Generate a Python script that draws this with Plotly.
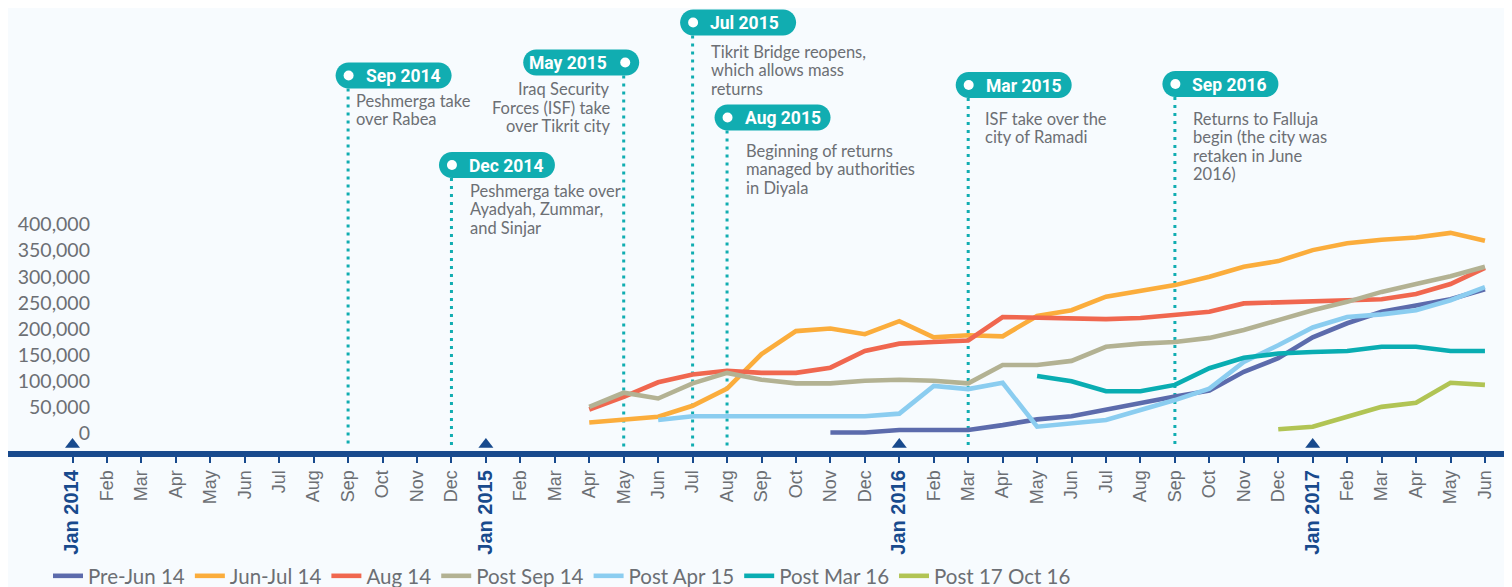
import plotly.graph_objects as go

# ---------------- data ----------------
month_abbr = ["Jan", "Feb", "Mar", "Apr", "May", "Jun", "Jul", "Aug", "Sep", "Oct", "Nov", "Dec"]
years = [2014, 2015, 2016, 2017]
n_months = 42  # Jan 2014 .. Jun 2017

series_names = ["Pre-Jun 14", "Jun-Jul 14", "Aug 14", "Post Sep 14", "Post Apr 15", "Post Mar 16", "Post 17 Oct 16"]
series_start = ["Nov 2015", "Apr 2015", "Apr 2015", "Apr 2015", "Jun 2015", "May 2016", "Dec 2016"]

pre_jun14 = [2000, 2000, 6700, 6700, 6700, 16000, 27000, 33000, 46000, 59000, 71000, 82000,
             118000, 144000, 184000, 211000, 233000, 245000, 257000, 276000]
jun_jul14 = [21000, 27000, 32000, 53000, 86000, 152000, 196000, 201000, 190000, 215000, 184000, 188000,
             186000, 225000, 236000, 262000, 274000, 284000, 300000, 319000, 330000, 351000, 364000,
             371000, 375000, 384000, 369000]
aug14 = [46000, 70000, 98000, 113000, 120000, 116000, 116000, 126000, 158000, 172000, 175000, 178000,
         223000, 222000, 222000, 219000, 221000, 227000, 233000, 249000, 251000, 251000, 253000,
         257000, 267000, 286000, 317000]
post_sep14 = [51000, 78000, 67000, 96000, 116000, 103000, 96000, 96000, 101000, 103000, 101000, 96000,
              131000, 131000, 139000, 166000, 172000, 175000, 183000, 198000, 217000, 236000, 252000,
              271000, 286000, 301000, 319000]
post_apr15 = [26000, 33000, 33000, 33000, 33000, 33000, 33000, 38000, 91000, 85000, 97000, 13000,
              19000, 26000, 45000, 64000, 86000, 137000, 169000, 203000, 223000, 228000, 236000,
              255000, 280000]
post_mar16 = [110000, 100000, 81000, 81000, 93000, 125000, 145000, 153000, 156000, 158000, 166000,
              166000, 158000, 158000]
post_17oct16 = [8000, 13000, 32000, 51000, 59000, 97000, 93000]

series_values = [pre_jun14, jun_jul14, aug14, post_sep14, post_apr15, post_mar16, post_17oct16]

y_tick_values = [0, 50000, 100000, 150000, 200000, 250000, 300000, 350000, 400000]

event_dates = ["Sep 2014", "Dec 2014", "May 2015", "Jul 2015", "Aug 2015", "Mar 2016", "Sep 2016"]
event_titles = ["Sep 2014", "Dec 2014", "May 2015", "Jul 2015", "Aug 2015", "Mar 2015", "Sep 2016"]
event_texts = [
    ["Peshmerga take", "over Rabea"],
    ["Peshmerga take over", "Ayadyah, Zummar,", "and Sinjar"],
    ["Iraq Security", "Forces (ISF) take", "over Tikrit city"],
    ["Tikrit Bridge reopens,", "which allows mass", "returns"],
    ["Beginning of returns", "managed by authorities", "in Diyala"],
    ["ISF take over the", "city of Ramadi"],
    ["Returns to Falluja", "begin (the city was", "retaken in June", "2016)"],
]

# ---------------- layout geometry / style (page pixel coords) ----------------
W, H = 1512, 587
OFF = 8                            # page body margin
PLOT_L, PLOT_R = OFF, OFF + W      # page coords of plot area
PLOT_T, PLOT_B = OFF, 451
M0PX, PXPM = 72.5, 34.45           # page pixel of Jan 2014, pixels per month
Y0PX, UPP = 433.5, 1914.0          # page pixel of value 0, units per pixel

XMIN = (PLOT_L - M0PX) / PXPM
XMAX = (PLOT_R - M0PX) / PXPM
YMIN = (Y0PX - PLOT_B) * UPP
YMAX = (Y0PX - PLOT_T) * UPP


def px_x(px):
    return (px - M0PX) / PXPM


def px_y(py):
    return (Y0PX - py) * UPP


def month_index(label):
    m, y = label.split()
    return (int(y) - 2014) * 12 + month_abbr.index(m)


colors = ["#5c6bac", "#fbad3c", "#f0674f", "#b3b293", "#8bcdf0", "#09adb2", "#b1c454"]
AXIS_BLUE = "#184a8d"
TEAL = "#11adb1"
GRAY = "#6c6f74"
BG = "#f7fbfe"
TEXT_FONT = "Lato"

# event layout: dot side, pill top pixel, body text x offset from line, first body line y
ev_side = ["L", "L", "R", "L", "L", "L", "L"]
ev_pill_top = [62.5, 152, 49.5, 9.5, 104.5, 72, 71]
ev_text_dx = [6, 17, -12, 16.7, 17, 15, 16]
ev_text_y0 = [101, 190.7, 89.3, 51.7, 150.7, 119, 119]
LINE_STEP = 18.4
PILL_H = 26

fig = go.Figure()

for name, start, vals, col in zip(series_names, series_start, series_values, colors):
    s = month_index(start)
    fig.add_trace(go.Scatter(
        x=list(range(s, s + len(vals))), y=vals, name=name, mode="lines",
        line=dict(color=col, width=4.6), hoverinfo="x+y+name",
    ))

# year-start triangles
jan_idx = [month_index(f"Jan {y}") for y in years]
fig.add_trace(go.Scatter(
    x=jan_idx, y=[px_y(444.5)] * len(jan_idx), mode="markers", showlegend=False,
    marker=dict(symbol="triangle-up", size=13, color=AXIS_BLUE, line=dict(width=0)),
    hoverinfo="skip", cliponaxis=False,
))

shapes = []
annotations = []


def pill_path(l, r, t, b):
    rr = (b - t) / 2
    k = 0.5523 * rr
    X, Y = px_x, px_y
    return (f"M {X(l+rr)},{Y(t)} L {X(r-rr)},{Y(t)} "
            f"C {X(r-rr+k)},{Y(t)} {X(r)},{Y(t+rr-k)} {X(r)},{Y(t+rr)} "
            f"C {X(r)},{Y(t+rr+k)} {X(r-rr+k)},{Y(b)} {X(r-rr)},{Y(b)} "
            f"L {X(l+rr)},{Y(b)} "
            f"C {X(l+rr-k)},{Y(b)} {X(l)},{Y(t+rr+k)} {X(l)},{Y(t+rr)} "
            f"C {X(l)},{Y(t+rr-k)} {X(l+rr-k)},{Y(t)} {X(l+rr)},{Y(t)} Z")


for i, d in enumerate(event_dates):
    mi = month_index(d)
    lx = M0PX + mi * PXPM
    t = ev_pill_top[i]
    b = t + PILL_H
    cy = (t + b) / 2
    # dotted line
    shapes.append(dict(type="line", xref="x", yref="y", x0=mi, x1=mi, y0=px_y(b), y1=px_y(448),
                       line=dict(color=TEAL, width=3, dash="3px,5px"), layer="below"))
    if ev_side[i] == "L":
        cx = lx + 0.5
        l, r = cx - 13, cx + 103
        tx, txa = cx + 15, "left"
    else:
        cx = lx + 1.5
        l, r = cx - 102, cx + 14
        tx, txa = cx - 16, "right"
    shapes.append(dict(type="path", xref="x", yref="y", path=pill_path(l, r, t, b),
                       fillcolor=TEAL, line=dict(width=0)))
    shapes.append(dict(type="circle", xref="x", yref="y", x0=px_x(cx - 5), x1=px_x(cx + 5),
                       y0=px_y(cy + 5), y1=px_y(cy - 5), fillcolor="white", line=dict(width=0)))
    annotations.append(dict(x=px_x(tx), y=px_y(cy + 0.5), xref="x", yref="y", text=f"<b>{event_titles[i]}</b>",
                            showarrow=False, xanchor=txa, yanchor="middle",
                            font=dict(family="Roboto", size=17.5, color="white")))
    bx = px_x(lx + ev_text_dx[i])
    for j, line in enumerate(event_texts[i]):
        annotations.append(dict(x=bx, y=px_y(ev_text_y0[i] + j * LINE_STEP), xref="x", yref="y",
                                text=line, showarrow=False,
                                xanchor="left" if ev_text_dx[i] > 0 else "right", yanchor="middle",
                                font=dict(family=TEXT_FONT, size=16.5, color=GRAY)))

# x tick labels
tick_vals = list(range(n_months))
tick_text = []
for i in tick_vals:
    m = month_abbr[i % 12]
    if i % 12 == 0:
        tick_text.append(f"<span style='font-size:20px;color:{AXIS_BLUE}'><b>{m} {2014 + i // 12}</b></span>")
    else:
        tick_text.append(m)

PW = PLOT_R - PLOT_L
PH = PLOT_B - PLOT_T

fig.update_layout(
    width=W, height=H,
    margin=dict(l=PLOT_L - OFF, r=OFF + W - PLOT_R, t=PLOT_T - OFF, b=(OFF + H) - PLOT_B, autoexpand=False),
    paper_bgcolor=BG, plot_bgcolor=BG,
    shapes=shapes, annotations=annotations,
    showlegend=True,
    legend=dict(orientation="h", x=(48 - PLOT_L) / PW, xanchor="left",
                y=(PLOT_B - 576) / PH, yanchor="middle",
                font=dict(family=TEXT_FONT, size=20.5, color=GRAY), bgcolor="rgba(0,0,0,0)",
                itemwidth=30, tracegroupgap=0),
    xaxis=dict(range=[XMIN, XMAX], tickvals=tick_vals, ticktext=tick_text, tickangle=-90,
               showgrid=False, zeroline=False, showline=True, linewidth=6, linecolor=AXIS_BLUE,
               ticks="outside", ticklen=6, tickwidth=2, tickcolor=AXIS_BLUE,
               tickfont=dict(family="Liberation Sans", size=18, color=GRAY), automargin=False,
               fixedrange=True),
    yaxis=dict(range=[YMIN, YMAX], tickvals=y_tick_values, tickformat=",d", anchor="free",
               position=(90 - PLOT_L) / PW, showgrid=False, zeroline=False,
               showline=False, ticks="", tickfont=dict(family=TEXT_FONT, size=19.5, color=GRAY),
               automargin=False, fixedrange=True),
    hovermode="closest",
)

fig.write_html("out.html")
